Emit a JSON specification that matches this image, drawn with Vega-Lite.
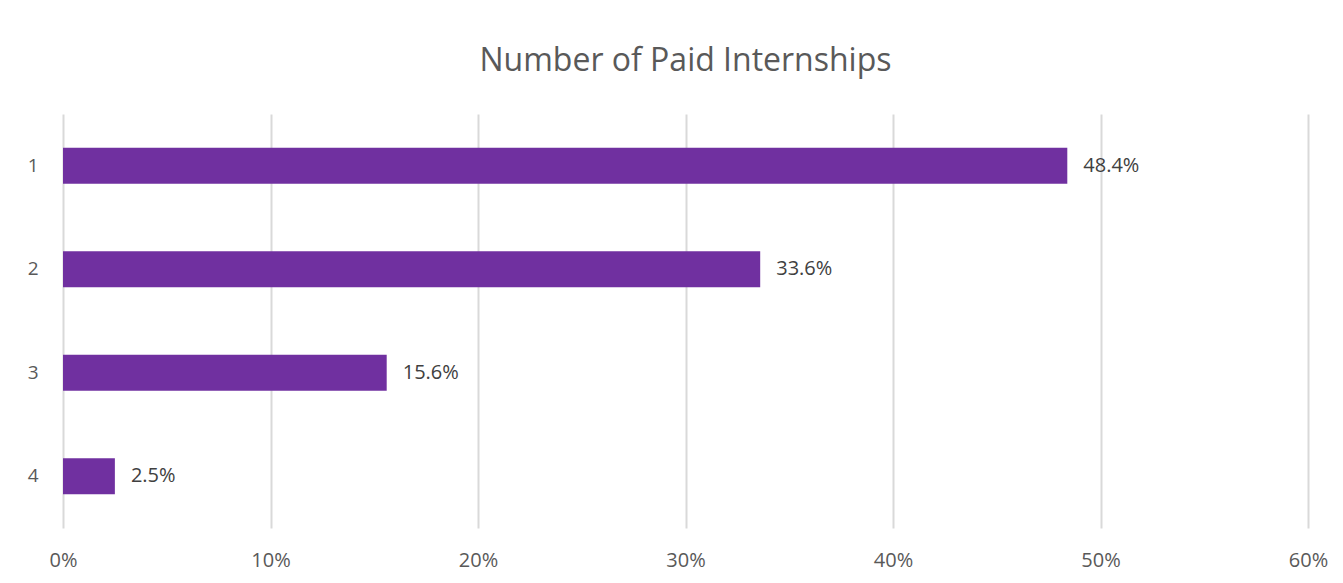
{
  "$schema": "https://vega.github.io/schema/vega-lite/v6.json",
  "autosize": {"type": "none"},
  "padding": {"left": 63, "top": 114, "right": 35, "bottom": 55},
  "width": 1245,
  "height": 414,
  "background": "white",
  "config": {
    "view": {"stroke": null},
    "font": "Open Sans"
  },
  "title": {
    "text": "Number of Paid Internships",
    "fontSize": 32,
    "fontWeight": "normal",
    "color": "#595959",
    "font": "Open Sans",
    "anchor": "middle",
    "offset": 36
  },
  "data": {
    "values": [
      {"cat": "1", "value": 0.484},
      {"cat": "2", "value": 0.336},
      {"cat": "3", "value": 0.156},
      {"cat": "4", "value": 0.025}
    ]
  },
  "encoding": {
    "y": {
      "field": "cat",
      "type": "nominal",
      "sort": null,
      "scale": {"paddingInner": 0.65, "paddingOuter": 0.325},
      "axis": {
        "title": null,
        "domain": false,
        "ticks": false,
        "grid": false,
        "labelPadding": 25,
        "labelFontSize": 19,
        "labelColor": "#595959",
        "labelFont": "Open Sans"
      }
    },
    "x": {
      "field": "value",
      "type": "quantitative",
      "scale": {"domain": [0, 0.6], "nice": false},
      "axis": {
        "title": null,
        "format": ".0%",
        "values": [0, 0.1, 0.2, 0.3, 0.4, 0.5, 0.6],
        "domain": false,
        "ticks": false,
        "grid": true,
        "gridColor": "#d9d9d9",
        "gridWidth": 2,
        "labelPadding": 22,
        "labelFontSize": 20,
        "labelColor": "#595959",
        "labelFont": "Open Sans",
        "labelFlush": false
      }
    }
  },
  "layer": [
    {"mark": {"type": "bar", "color": "#7030A0"}},
    {
      "mark": {"type": "text", "align": "left", "baseline": "middle", "dx": 16, "fontSize": 20, "color": "#404040", "font": "Open Sans"},
      "encoding": {"text": {"field": "value", "type": "quantitative", "format": ".1%"}}
    }
  ]
}
